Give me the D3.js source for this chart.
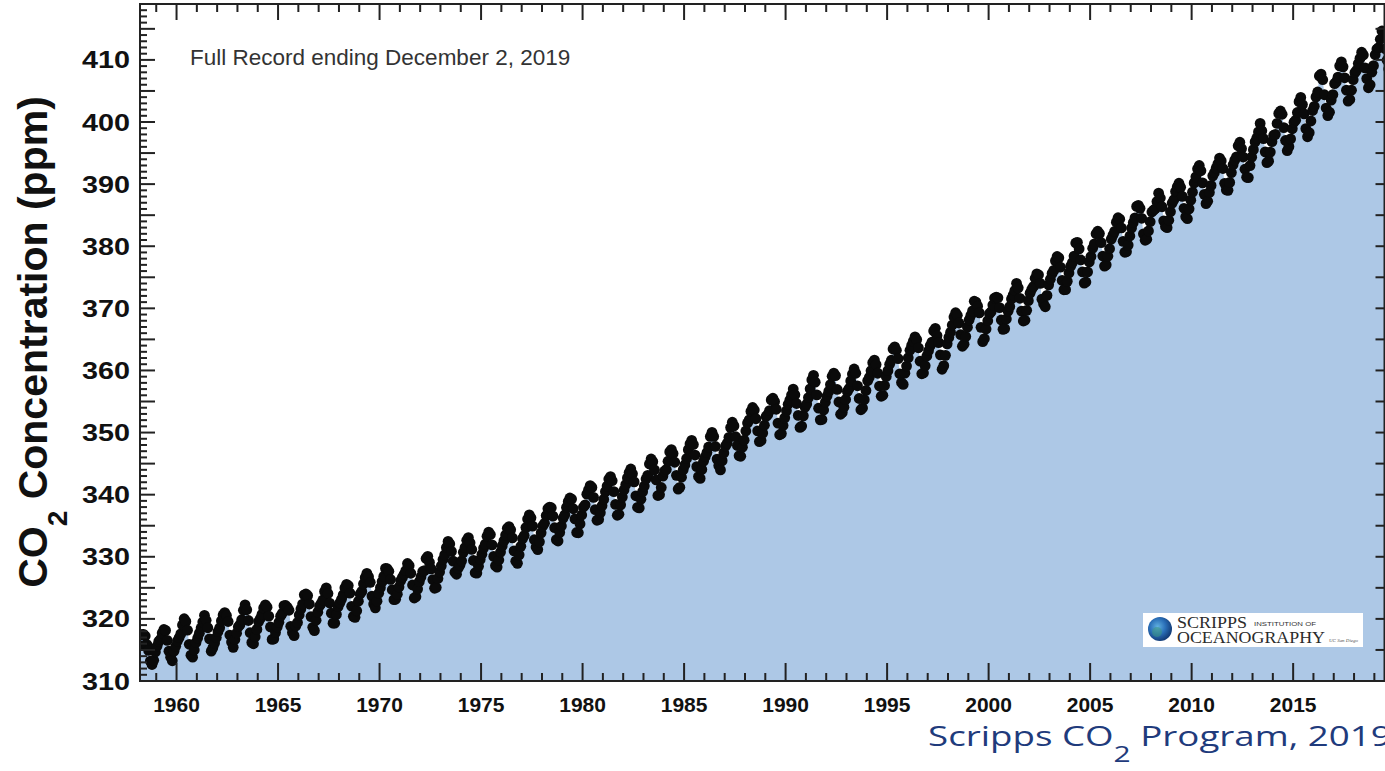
<!DOCTYPE html>
<html><head><meta charset="utf-8">
<script src="https://cdn.jsdelivr.net/npm/d3@7"></script>
<style>html,body{margin:0;padding:0;background:#fff;overflow:hidden}</style>
</head><body><svg id="c" width="1385" height="771"></svg>
<script>
// ---- Data: Mauna Loa monthly CO2 (ppm), starting March 1958 ----
const startYear = 1958, startMonth = 2; // March (0-based)
const co2_1958_1959 = [315.70,317.45,317.51,317.24,315.86,314.93,313.20,312.66,313.33,314.67,
 315.62,316.38,316.71,317.72,318.29,318.15,316.54,314.80,313.84,313.26,314.80,315.58];
const co2_1960s = [
 316.43,316.97,317.58,319.02,320.03,319.59,318.18,315.91,314.16,313.83,315.00,316.19,
 316.93,317.70,318.54,319.48,320.58,319.77,318.57,316.79,314.80,315.38,316.10,317.01,
 317.94,318.56,319.68,320.63,321.01,320.55,319.58,317.40,316.26,315.42,316.69,317.69,
 318.74,319.08,319.86,321.39,322.25,321.47,319.74,317.77,316.21,315.99,317.12,318.31,
 319.57,320.07,320.73,321.77,322.25,321.89,320.44,318.70,316.70,316.79,317.79,318.71,
 319.44,320.44,320.89,322.13,322.16,321.87,321.39,318.81,317.81,317.30,318.87,319.42,
 320.62,321.59,322.39,323.87,324.01,323.75,322.39,320.37,318.64,318.10,319.79,321.08,
 322.07,322.50,323.04,324.42,325.00,324.09,322.55,320.92,319.31,319.31,320.72,321.96,
 322.57,323.15,323.89,325.02,325.57,325.36,324.14,322.03,320.41,320.25,321.31,322.84,
 324.00,324.42,325.64,326.66,327.34,326.76,325.88,323.67,322.38,321.78,322.85,324.12];
const co2_1970s = [
 325.03,325.99,326.87,328.13,328.07,327.66,326.35,324.69,323.10,323.16,323.98,325.13,
 326.17,326.68,327.18,327.78,328.92,328.57,327.34,325.46,323.36,323.57,324.80,326.01,
 326.77,327.63,327.75,329.72,330.07,329.09,328.05,326.32,324.93,325.06,326.50,327.55,
 328.54,329.56,330.30,331.50,332.48,332.07,330.87,329.31,327.51,327.18,328.16,328.64,
 329.35,330.71,331.48,332.65,333.09,332.25,331.18,329.40,327.43,327.37,328.46,329.57,
 330.40,331.40,332.04,333.31,333.96,333.59,331.91,330.06,328.56,328.34,329.49,330.76,
 331.75,332.56,333.50,334.58,334.87,334.34,333.05,330.94,329.30,328.94,330.31,331.68,
 332.93,333.42,334.70,336.07,336.74,336.27,334.93,332.75,331.58,331.16,332.40,333.85,
 334.97,335.39,336.64,337.76,338.01,337.89,336.54,334.68,332.76,332.54,333.92,334.95,
 336.23,336.76,337.96,338.88,339.47,339.29,337.73,336.09,333.91,333.86,335.29,336.73];
const co2_1980s = [
 338.01,338.36,340.08,340.77,341.46,341.17,339.56,337.60,335.88,336.02,337.10,338.21,
 339.24,340.48,341.38,342.51,342.91,342.25,340.49,338.43,336.69,336.85,338.36,339.61,
 340.75,341.61,342.70,343.56,344.13,343.35,342.06,339.82,337.97,337.86,339.26,340.49,
 341.38,342.52,343.10,344.94,345.75,345.32,343.99,342.39,339.86,339.99,341.16,342.99,
 343.81,344.06,345.38,346.88,347.25,346.62,345.22,343.11,340.90,341.18,342.80,344.04,
 344.79,345.82,347.25,348.17,348.74,348.07,346.38,344.51,342.92,342.62,344.06,345.38,
 346.11,346.78,347.68,349.37,350.03,349.37,347.76,345.73,344.68,343.99,345.48,346.72,
 347.84,348.29,349.23,350.80,351.66,351.07,349.33,347.92,346.27,346.18,347.64,348.78,
 350.25,351.54,352.05,353.41,354.04,353.62,352.22,350.27,348.55,348.72,349.91,351.18,
 352.60,352.92,353.53,355.26,355.52,354.97,353.75,351.52,349.64,349.83,351.14,352.37];
const co2_1990s = [
 353.50,354.55,355.23,356.04,357.00,356.07,354.67,352.76,350.82,351.04,352.69,354.07,
 354.59,355.63,357.03,358.48,359.22,358.12,356.06,353.92,352.05,352.11,353.64,354.89,
 355.88,356.63,357.72,359.07,359.58,359.17,356.94,354.92,352.94,353.23,354.09,355.33,
 356.63,357.10,358.32,359.41,360.23,359.55,357.53,355.48,353.67,353.95,355.30,356.78,
 358.34,358.89,359.95,361.25,361.67,360.94,359.55,357.49,355.84,356.00,357.58,359.04,
 359.97,361.00,361.64,363.45,363.79,363.26,361.90,359.46,358.06,357.75,359.56,360.70,
 362.05,363.25,364.03,364.72,365.41,364.97,363.65,361.49,359.46,359.60,360.76,362.33,
 363.18,364.00,364.57,366.35,366.79,365.62,364.47,362.51,360.19,360.77,362.43,364.28,
 365.32,366.15,367.31,368.61,369.29,368.87,367.64,365.77,363.90,364.23,365.46,366.97,
 368.15,368.87,369.59,371.14,371.00,370.35,369.27,366.94,364.63,365.12,366.67,368.01];
const co2_2000s = [
 369.14,369.46,370.52,371.66,371.82,371.70,370.12,368.12,366.62,366.73,368.29,369.53,
 370.28,371.50,372.12,372.87,374.02,373.30,371.62,369.55,367.96,368.09,369.68,371.24,
 372.44,373.08,373.52,374.85,375.55,375.40,374.02,371.48,370.71,370.25,372.08,373.78,
 374.68,375.62,376.11,377.65,378.35,378.13,376.62,374.50,372.99,373.01,374.35,375.70,
 376.79,377.37,378.41,380.52,380.63,379.57,377.79,375.86,374.06,374.24,375.86,377.48,
 378.34,379.67,380.38,382.01,382.42,382.03,380.57,378.42,376.80,377.00,378.38,379.60,
 381.14,381.78,382.40,383.87,384.59,384.36,382.94,380.79,379.03,379.11,380.18,381.65,
 382.93,383.81,384.56,386.41,386.57,386.10,384.50,381.99,380.96,381.12,382.45,383.95,
 385.52,385.82,386.03,387.21,388.54,387.76,386.36,384.09,383.18,382.99,384.19,385.56,
 386.94,387.48,388.82,389.55,390.14,389.48,388.03,386.11,384.74,384.43,386.02,387.42];
const co2_2010s = [
 388.71,390.20,391.17,392.46,393.00,392.15,390.20,388.35,386.85,387.24,388.67,389.79,
 391.33,391.86,392.60,393.25,394.19,393.74,392.51,390.13,389.08,389.00,390.28,391.86,
 393.12,393.86,394.40,396.18,396.74,395.71,394.36,392.39,391.11,391.05,392.98,394.34,
 395.55,396.80,397.43,398.41,399.78,398.60,397.32,395.20,393.45,393.70,395.16,396.84,
 397.85,398.01,399.77,401.38,401.78,401.25,399.10,397.03,395.38,396.03,397.28,398.91,
 399.98,400.28,401.54,403.28,403.96,402.80,401.31,398.93,397.63,398.29,400.16,401.85,
 402.52,404.04,404.83,407.42,407.70,406.81,404.39,402.25,401.03,401.57,403.53,404.42,
 406.17,406.46,407.22,409.04,409.69,408.88,407.12,405.13,403.37,403.63,405.12,406.81,
 407.96,408.32,409.41,410.24,411.24,410.79,408.71,406.99,405.51,406.00,408.02,409.07,
 410.83,411.75,411.97,413.32,414.66,413.92,411.77,409.95,408.54,408.53,410.27];

const xTickLabels = [1960,1965,1970,1975,1980,1985,1990,1995,2000,2005,2010,2015];
const yTickLabels = [310,320,330,340,350,360,370,380,390,400,410];
const xDomain = [1958.2, 2019.5];
const yDomain = [310, 419];
const recordText = "Full Record ending December 2, 2019";

// ---- Build ----
const values = [].concat(co2_1958_1959, co2_1960s, co2_1970s, co2_1980s, co2_1990s, co2_2000s, co2_2010s);
const data = values.map((v,i)=>({t: startYear + (startMonth + i + 0.5)/12, v}));

const svg = d3.select("#c");
svg.append("rect").attr("width",1385).attr("height",771).attr("fill","#fff");
const L=140, T=4, R=1384.5, B=681;
const x = d3.scaleLinear().domain(xDomain).range([L,R]);
const y = d3.scaleLinear().domain(yDomain).range([B,T]);

svg.append("clipPath").attr("id","clip").append("rect")
  .attr("x",L).attr("y",T).attr("width",1385-L).attr("height",B-T);
const plot = svg.append("g").attr("clip-path","url(#clip)");
plot.append("path").datum(data)
  .attr("fill","#adc8e6")
  .attr("d", d3.area().x(d=>x(d.t)).y0(y(yDomain[0])).y1(d=>y(d.v)));
plot.selectAll("circle").data(data).join("circle")
  .attr("cx",d=>x(d.t)).attr("cy",d=>y(d.v)).attr("r",5.4).attr("fill","#0a0a0a");

// Frame
const ax = svg.append("g").attr("stroke","#222").attr("stroke-width",2).attr("fill","none");
ax.append("rect").attr("x",L).attr("y",T).attr("width",R-L).attr("height",B-T);
// x ticks
d3.range(1959,2020).forEach(yr=>{
  const px = x(yr), major = yr%5===0;
  ax.append("line").attr("x1",px).attr("x2",px).attr("y1",B).attr("y2",B-(major?18:8));
  ax.append("line").attr("x1",px).attr("x2",px).attr("y1",T).attr("y2",T+(major?16:8));
});
// y ticks
d3.range(311,419).forEach(v=>{
  const py = y(v), major = v%5===0;
  ax.append("line").attr("x1",L).attr("x2",L+(major?15:7)).attr("y1",py).attr("y2",py);
  if (major) ax.append("line").attr("x1",R).attr("x2",R-9).attr("y1",py).attr("y2",py);
});

// Tick labels
const font = "'Liberation Sans', Arial, Helvetica, sans-serif";
svg.append("g").selectAll("text").data(xTickLabels).join("text")
  .attr("x",d=>x(d)).attr("y",712).attr("text-anchor","middle")
  .attr("font-family",font).attr("font-weight","bold").attr("font-size",21).attr("fill","#111")
  .text(d=>d);
svg.append("g").selectAll("text").data(yTickLabels).join("text")
  .attr("x",82).attr("y",d=>y(d)+8.5)
  .attr("font-family",font).attr("font-weight","bold").attr("font-size",23).attr("fill","#111")
  .attr("textLength",48).attr("lengthAdjust","spacingAndGlyphs")
  .text(d=>d);

// Y axis title
const yt = svg.append("text").attr("transform","translate(47,342) rotate(-90)")
  .attr("text-anchor","middle").attr("font-family",font).attr("font-weight","bold")
  .attr("font-size",41).attr("fill","#111");
yt.append("tspan").text("CO");
yt.append("tspan").attr("font-size",28).attr("dy",20).text("2");
yt.append("tspan").attr("dy",-20).text(" Concentration (ppm)");

// Record text
svg.append("text").attr("x",190).attr("y",65).attr("font-family",font)
  .attr("font-size",22.5).attr("fill","#333").text(recordText);

// Logo
const lg = svg.append("g");
lg.append("rect").attr("x",1143).attr("y",613).attr("width",220).attr("height",34).attr("fill","#fff");
const grad = svg.append("defs").append("radialGradient").attr("id","globe").attr("cx","40%").attr("cy","40%").attr("r","60%");
grad.append("stop").attr("offset","0%").attr("stop-color","#5fb0e0");
grad.append("stop").attr("offset","55%").attr("stop-color","#2a6fb8");
grad.append("stop").attr("offset","100%").attr("stop-color","#143e7a");
lg.append("circle").attr("cx",1160).attr("cy",629).attr("r",12).attr("fill","url(#globe)");
lg.append("circle").attr("cx",1157).attr("cy",632).attr("r",5).attr("fill","#3e9a7a").attr("opacity",0.5);
const serif = "'Liberation Serif','DejaVu Serif',serif";
lg.append("text").attr("x",1177).attr("y",628).attr("font-family",serif).attr("font-size",17)
  .attr("fill","#2b2b2b").attr("textLength",70).attr("lengthAdjust","spacingAndGlyphs").text("SCRIPPS");
lg.append("text").attr("x",1254).attr("y",626).attr("font-family",font).attr("font-size",5.5)
  .attr("fill","#333").attr("textLength",62).attr("lengthAdjust","spacingAndGlyphs").text("INSTITUTION OF");
lg.append("text").attr("x",1177).attr("y",643).attr("font-family",serif).attr("font-size",16)
  .attr("fill","#2b2b2b").attr("textLength",148).attr("lengthAdjust","spacingAndGlyphs").text("OCEANOGRAPHY");
lg.append("text").attr("x",1329).attr("y",642).attr("font-family",serif).attr("font-style","italic").attr("font-size",5)
  .attr("fill","#555").attr("textLength",29).attr("lengthAdjust","spacingAndGlyphs").text("UC San Diego");

// Source text (cut at right edge as in the reference)
const src = svg.append("g").attr("transform","translate(928,746) scale(1.36,1)")
  .append("text").attr("font-family","'Open Sans','Noto Sans',sans-serif").attr("font-size",27).attr("fill","#1f3b7c");
src.append("tspan").text("Scripps CO");
src.append("tspan").attr("font-size",22).attr("dy",16).text("2");
src.append("tspan").attr("dy",-16).text(" Program, 2019");
</script></body></html>
